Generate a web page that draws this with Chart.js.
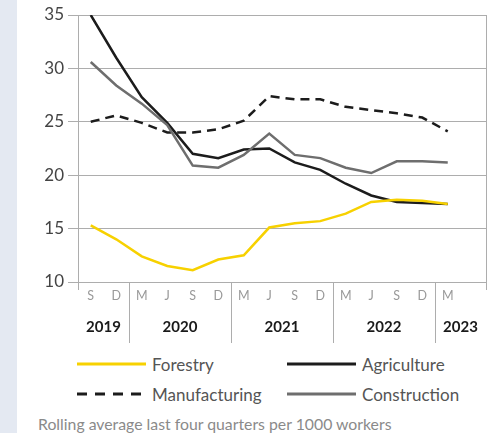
<!DOCTYPE html>
<html>
<head>
<meta charset="utf-8">
<script src="https://cdn.jsdelivr.net/npm/chart.js@4/dist/chart.umd.min.js"></script>
<style>
  html, body { margin: 0; padding: 0; background: #fff; }
  body { width: 499px; height: 433px; position: relative; overflow: hidden; font-family: Lato, "Open Sans", sans-serif; }
  .strip { position: absolute; left: 0; top: 0; width: 17px; height: 433px; background: #e4e9f2; }
  #wrap { position: absolute; left: 0; top: 0; width: 499px; height: 350px; }
  .leg { position: absolute; height: 20px; display: flex; align-items: center; font-size: 17px; color: #555; }
  .leg svg { margin-right: 6px; }
  .foot { position: absolute; left: 38px; top: 414px; font-size: 15.8px; color: #8a8a8a; white-space: nowrap; }
</style>
</head>
<body>
<div class="strip"></div>
<div id="wrap"><canvas id="grafico" width="499" height="350"></canvas></div>
<div class="leg" style="left:77px;top:354px"><svg width="69" height="4"><line x1="0" y1="2" x2="69" y2="2" stroke="#f7d100" stroke-width="3"/></svg>Forestry</div>
<div class="leg" style="left:287px;top:354px"><svg width="69" height="4"><line x1="0" y1="2" x2="69" y2="2" stroke="#1c1c1c" stroke-width="3"/></svg>Agriculture</div>
<div class="leg" style="left:77px;top:384px"><svg width="69" height="4"><line x1="0" y1="2" x2="69" y2="2" stroke="#1c1c1c" stroke-width="3" stroke-dasharray="10 8"/></svg>Manufacturing</div>
<div class="leg" style="left:287px;top:384px"><svg width="69" height="4"><line x1="0" y1="2" x2="69" y2="2" stroke="#6e6e6e" stroke-width="3"/></svg>Construction</div>
<div class="foot">Rolling average last four quarters per 1000 workers</div>
<script>
// Trimestres (el último hueco queda vacío, como en el original)
const meses = ['S', 'D', 'M', 'J', 'S', 'D', 'M', 'J', 'S', 'D', 'M', 'J', 'S', 'D', 'M', ''];
const anios = ['2019', '2020', '2021', '2022', '2023'];
const inicioAnio = [0, 2, 6, 10, 14];

const forestry      = [15.3, 14.0, 12.4, 11.5, 11.1, 12.1, 12.5, 15.1, 15.5, 15.7, 16.4, 17.5, 17.7, 17.6, 17.3];
const agriculture   = [35.0, 31.0, 27.3, 24.9, 22.0, 21.6, 22.4, 22.5, 21.2, 20.5, 19.2, 18.1, 17.5, 17.4, 17.3];
const manufacturing = [25.0, 25.6, 24.9, 24.0, 24.0, 24.3, 25.1, 27.4, 27.1, 27.1, 26.4, 26.1, 25.8, 25.4, 24.1];
const construction  = [30.6, 28.4, 26.7, 24.7, 20.9, 20.7, 21.9, 23.9, 21.9, 21.6, 20.7, 20.2, 21.3, 21.3, 21.2];

const gris = '#adadad';

// Separadores de años y etiquetas debajo del eje X
const pluginAnios = {
    id: 'anios',
    afterDraw(chart) {
        const c = chart.ctx;
        const x = chart.scales.x;
        const area = chart.chartArea;
        const paso = (area.right - area.left) / meses.length;
        c.save();
        c.strokeStyle = gris;
        c.lineWidth = 1;
        // bordes cortos en los extremos
        [area.left, area.right].forEach(function(px) {
            c.beginPath();
            c.moveTo(Math.round(px) + 0.5, area.top);
            c.lineTo(Math.round(px) + 0.5, area.bottom + 8);
            c.stroke();
        });
        c.font = 'bold 15px Lato';
        c.fillStyle = '#1a1a1a';
        c.textAlign = 'center';
        c.textBaseline = 'middle';
        for (let i = 0; i < anios.length; i++) {
            const desde = x.getPixelForValue(inicioAnio[i]) - paso / 2;
            const hasta = i < anios.length - 1 ? x.getPixelForValue(inicioAnio[i + 1]) - paso / 2 : area.right;
            if (i > 0) {
                c.beginPath();
                c.moveTo(Math.round(desde) + 0.5, area.bottom);
                c.lineTo(Math.round(desde) + 0.5, area.bottom + 61);
                c.stroke();
            }
            c.fillText(anios[i], (desde + hasta) / 2, area.bottom + 45);
        }
        c.restore();
    }
};

new Chart(document.getElementById('grafico'), {
    type: 'line',
    data: {
        labels: meses,
        datasets: [
            { label: 'Forestry', data: forestry, borderColor: '#f7d100', borderWidth: 2.5 },
            { label: 'Construction', data: construction, borderColor: '#6e6e6e', borderWidth: 2.5 },
            { label: 'Agriculture', data: agriculture, borderColor: '#1c1c1c', borderWidth: 2.5 },
            { label: 'Manufacturing', data: manufacturing, borderColor: '#1c1c1c', borderWidth: 2.5, borderDash: [9, 6] }
        ]
    },
    options: {
        responsive: false,
        animation: false,
        layout: { padding: { top: 15, right: 13, left: 0, bottom: 0 } },
        elements: { point: { radius: 0 }, line: { tension: 0, fill: false } },
        plugins: { legend: { display: false }, tooltip: { enabled: false } },
        scales: {
            x: {
                offset: true,
                grid: { display: false, drawTicks: false },
                border: { display: false },
                ticks: { color: '#999', font: { family: 'Lato', size: 12.5 }, padding: 6, maxRotation: 0, autoSkip: false },
                afterFit: function(s) { s.height = 68; }
            },
            y: {
                min: 10,
                max: 35,
                ticks: { stepSize: 5, color: '#444', font: { family: 'Lato', size: 17 }, padding: 4 },
                grid: { color: gris, lineWidth: 1, tickLength: 10 },
                border: { color: gris },
                afterFit: function(s) { s.width = 78; }
            }
        }
    },
    plugins: [pluginAnios]
});
</script>
</body>
</html>
